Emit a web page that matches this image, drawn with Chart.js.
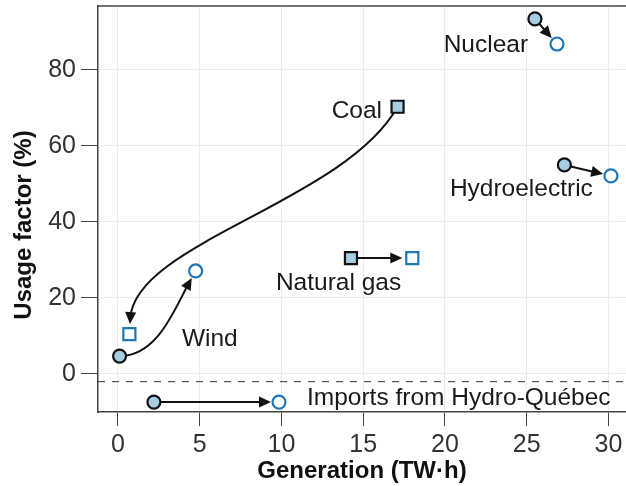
<!DOCTYPE html>
<html>
<head>
<meta charset="utf-8">
<script src="https://cdn.jsdelivr.net/npm/chart.js@4"></script>
<style>
  html, body { margin: 0; padding: 0; background: #fff; }
</style>
</head>
<body>
<canvas id="myChart" width="626" height="486"></canvas>
<script>
const sources = ['Nuclear', 'Hydroelectric', 'Coal', 'Natural gas', 'Wind', 'Imports from Hydro-Québec'];
const genBefore = [25.5, 27.3, 17.1, 14.25, 0.1, 2.2];
const useBefore = [93.4, 55.0, 70.3, 30.5, 4.7, -7.4];
const genAfter = [26.85, 30.15, 0.7, 18.0, 4.75, 9.85];
const useAfter = [86.8, 52.1, 10.5, 30.5, 27.1, -7.4];
const xTicks = [0, 5, 10, 15, 20, 25, 30];
const yTicks = [0, 20, 40, 60, 80];
const importsCutoff = -2;

// marker shape for each source
const shapes = ['circle', 'circle', 'rect', 'rect', 'circle', 'circle'];
const radii = shapes.map(s => s === 'rect' ? 8.5 : 6.5);

// label anchors (data units, baseline)
const labelPos = {
    'Nuclear': { x: 25.08, y: 84.7, align: 'right' },
    'Hydroelectric': { x: 20.3, y: 46.8, align: 'left' },
    'Coal': { x: 16.15, y: 67.4, align: 'right' },
    'Natural gas': { x: 9.66, y: 22.1, align: 'left' },
    'Wind': { x: 3.91, y: 7.4, align: 'left' },
    'Imports from Hydro-Québec': { x: 11.56, y: -8.2, align: 'left' }
};

// curved arrows: control points as fractions of (end - start)
const curves = {
    'Coal': [0.2, 0.42, 0.98, 0.6],
    'Wind': [0.5, 0, 0.72, 0.55]
};

const FONT = "'Liberation Sans', Arial, Helvetica, sans-serif";
Chart.defaults.font.family = FONT;

const lightBlue = '#a6cee3';
const darkBlue = '#1f78b4';
const axisGrey = '#444444';

function arrowHead(ctx, x, y, ang) {
    const L = 12, W = 5.5;
    ctx.beginPath();
    ctx.moveTo(x, y);
    ctx.lineTo(x - L * Math.cos(ang) + W * Math.sin(ang), y - L * Math.sin(ang) - W * Math.cos(ang));
    ctx.lineTo(x - L * Math.cos(ang) - W * Math.sin(ang), y - L * Math.sin(ang) + W * Math.cos(ang));
    ctx.closePath();
    ctx.fill();
}

const annotations = {
    id: 'annotations',
    beforeDatasetsDraw(chart) {
        const { ctx, chartArea, scales: { x, y } } = chart;
        ctx.save();
        // dashed separator for imports
        ctx.strokeStyle = '#555';
        ctx.lineWidth = 1.2;
        ctx.setLineDash([7, 7]);
        const yc = y.getPixelForValue(importsCutoff);
        ctx.beginPath();
        ctx.moveTo(chartArea.left, yc);
        ctx.lineTo(chartArea.right, yc);
        ctx.stroke();
        ctx.setLineDash([]);

        // arrows
        ctx.strokeStyle = '#111';
        ctx.fillStyle = '#111';
        ctx.lineWidth = 2;
        sources.forEach((name, i) => {
            const x1 = x.getPixelForValue(genBefore[i]);
            const y1 = y.getPixelForValue(useBefore[i]);
            const x2 = x.getPixelForValue(genAfter[i]);
            const y2 = y.getPixelForValue(useAfter[i]);
            const gap = radii[i] + 1.5;
            const c = curves[name];
            if (c) {
                const dx = x2 - x1, dy = y2 - y1;
                const c1x = x1 + c[0] * dx, c1y = y1 + c[1] * dy;
                const c2x = x1 + c[2] * dx, c2y = y1 + c[3] * dy;
                const ang = Math.atan2(y2 - c2y, x2 - c2x);
                const ex = x2 - gap * Math.cos(ang), ey = y2 - gap * Math.sin(ang);
                ctx.beginPath();
                ctx.moveTo(x1, y1);
                ctx.bezierCurveTo(c1x, c1y, c2x, c2y, ex - 6 * Math.cos(ang), ey - 6 * Math.sin(ang));
                ctx.stroke();
                arrowHead(ctx, ex, ey, ang);
            } else {
                const ang = Math.atan2(y2 - y1, x2 - x1);
                const ex = x2 - gap * Math.cos(ang), ey = y2 - gap * Math.sin(ang);
                ctx.beginPath();
                ctx.moveTo(x1, y1);
                ctx.lineTo(ex - 6 * Math.cos(ang), ey - 6 * Math.sin(ang));
                ctx.stroke();
                arrowHead(ctx, ex, ey, ang);
            }
        });
        ctx.restore();
    },
    afterDraw(chart) {
        const { ctx, chartArea, scales: { x, y } } = chart;
        ctx.save();
        // top frame line
        ctx.strokeStyle = axisGrey;
        ctx.lineWidth = 1.5;
        ctx.beginPath();
        ctx.moveTo(chartArea.left, chartArea.top);
        ctx.lineTo(chartArea.right, chartArea.top);
        ctx.stroke();

        // labels
        ctx.fillStyle = '#1a1a1a';
        ctx.font = '24.5px ' + FONT;
        ctx.textBaseline = 'alphabetic';
        sources.forEach(name => {
            const p = labelPos[name];
            ctx.textAlign = p.align;
            ctx.fillText(name, x.getPixelForValue(p.x), y.getPixelForValue(p.y));
        });

        // y axis title
        ctx.translate(24, 225);
        ctx.rotate(-Math.PI / 2);
        ctx.font = 'bold 24px ' + FONT;
        ctx.fillStyle = '#111';
        ctx.textAlign = 'center';
        ctx.textBaseline = 'middle';
        ctx.fillText('Usage factor (%)', 0, 0);
        ctx.restore();
    }
};

const config = {
    type: 'scatter',
    data: {
        datasets: [
            {
                label: 'Before',
                data: genBefore.map((g, i) => ({ x: g, y: useBefore[i] })),
                pointStyle: shapes,
                pointRadius: radii,
                backgroundColor: lightBlue,
                borderColor: '#111',
                borderWidth: 2.2
            },
            {
                label: 'After',
                data: genAfter.map((g, i) => ({ x: g, y: useAfter[i] })),
                pointStyle: shapes,
                pointRadius: radii,
                backgroundColor: '#ffffff',
                borderColor: darkBlue,
                borderWidth: 2.2
            }
        ]
    },
    options: {
        responsive: false,
        animation: false,
        devicePixelRatio: 1,
        layout: { autoPadding: false, padding: { top: 6, right: 0, bottom: 0, left: 0 } },
        scales: {
            x: {
                type: 'linear',
                min: -1.22,
                max: 31.07,
                afterBuildTicks: s => { s.ticks = xTicks.map(v => ({ value: v })); },
                afterFit: s => { s.height = 74; s.paddingLeft = 0; s.paddingRight = 0; },
                ticks: { font: { size: 25 }, color: '#333', padding: 4, maxRotation: 0, autoSkip: false },
                grid: { color: '#ebebeb', tickColor: axisGrey, tickLength: 14, lineWidth: 1 },
                border: { color: axisGrey, width: 1.5 },
                title: {
                    display: true,
                    text: 'Generation (TW·h)',
                    color: '#111',
                    font: { size: 24, weight: 'bold' },
                    padding: { top: 0, bottom: 0 }
                }
            },
            y: {
                min: -10,
                max: 96.8,
                afterBuildTicks: s => { s.ticks = yTicks.map(v => ({ value: v })); },
                afterFit: s => { s.width = 98; s.paddingTop = 0; s.paddingBottom = 0; },
                ticks: { font: { size: 25 }, color: '#333', padding: 5, autoSkip: false },
                grid: { color: '#ebebeb', tickColor: axisGrey, tickLength: 17, lineWidth: 1 },
                border: { color: axisGrey, width: 1.5 },
                title: { display: false }
            }
        },
        plugins: {
            legend: { display: false },
            tooltip: { enabled: false }
        }
    },
    plugins: [annotations]
};

var myChart = new Chart(document.getElementById('myChart'), config);
</script>
</body>
</html>
